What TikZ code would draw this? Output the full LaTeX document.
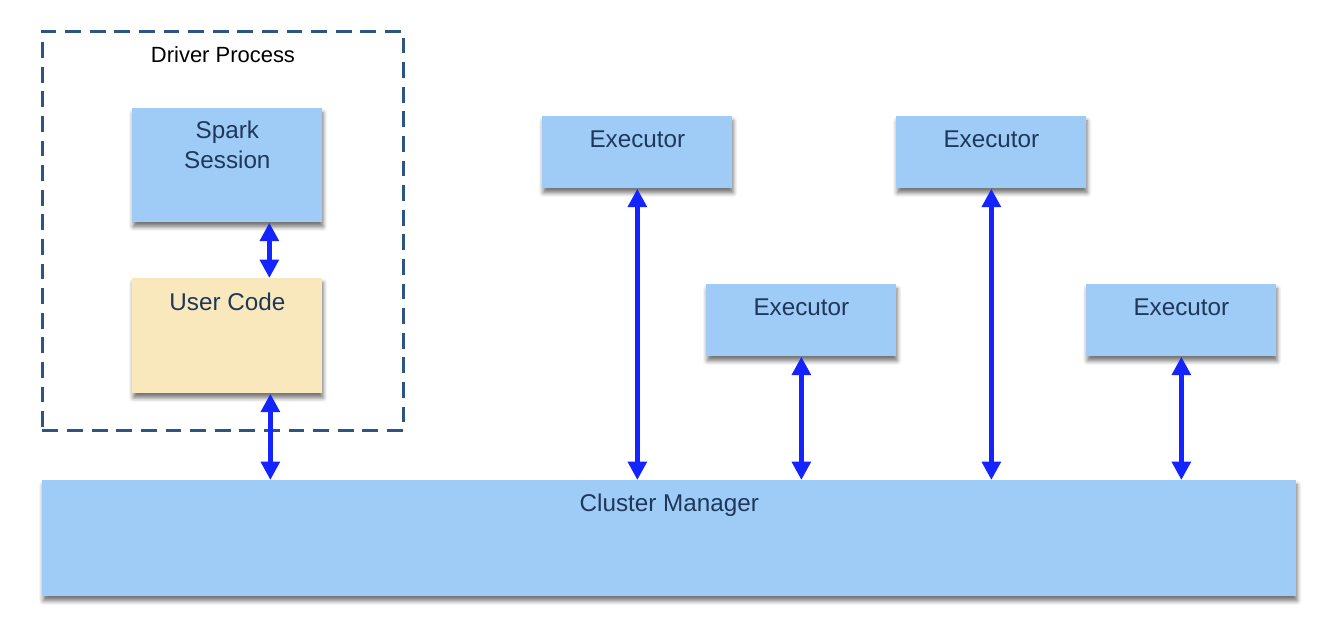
\documentclass[tikz,border=0pt]{standalone}
\usepackage{fontspec}
\setmainfont{Liberation Sans}
\usepackage{xcolor}
\usetikzlibrary{calc, positioning, arrows.meta, shadows.blur}
\definecolor{boxblue}{RGB}{159,204,247}
\definecolor{codeyellow}{RGB}{250,232,189}
\definecolor{labelnavy}{RGB}{30,55,90}
\definecolor{dashnavy}{RGB}{46,84,133}
\definecolor{linkblue}{RGB}{20,36,255}

\begin{document}
\begin{tikzpicture}[
	box/.style={fill=boxblue, text=labelnavy, font=\fontsize{13.8}{17}\selectfont, inner sep=0pt, anchor=north west, minimum width=3.8cm, text height=0.62cm, blur shadow={shadow xshift=0.5pt, shadow yshift=-2.6pt, shadow blur radius=2.4pt, shadow opacity=55}},
	link/.style={draw=linkblue, line width=3pt, {Triangle[length=10.5pt,width=10.5pt]}-{Triangle[length=10.5pt,width=10.5pt]}}
]
	\useasboundingbox (0,0) rectangle (26.56,-12.76);
	
	\node [draw=dashnavy, line width=1.7pt, dash pattern=on 9pt off 5pt, inner sep=0pt, anchor=north west, minimum width=7.22cm, text height=0.62cm, text depth=7.36cm, font=\fontsize{12.5}{15}\selectfont] (driver) at (0.82,-0.6) {Driver Process};
	
	\node [box, align=center, text height=1.2cm, text depth=1.08cm] (spark) at (2.64,-2.16) {Spark\\Session};
	\node [box, fill=codeyellow, text height=0.64cm, text depth=1.66cm] (user) at (2.64,-5.56) {User Code};
	
	\node [box, text depth=0.82cm] (exec1) at (10.84,-2.32) {Executor};
	\node [box, text depth=0.82cm] (exec2) at (14.12,-5.68) {Executor};
	\node [box, text depth=0.82cm] (exec3) at (17.92,-2.32) {Executor};
	\node [box, text depth=0.82cm] (exec4) at (21.72,-5.68) {Executor};
	
	\node [box, minimum width=25.08cm, text depth=1.70cm] (cluster) at (0.84,-9.6) {Cluster Manager};
	
	\coordinate (usertap) at ([xshift=0.86cm]user.south);
	\draw [link] ([xshift=0.84cm]spark.south) -- ([xshift=0.84cm]user.north);
	\draw [link] (usertap) -- (usertap |- cluster.north);
	
	\draw [link] (exec1.south) -- (exec1.south |- cluster.north);
	\draw [link] (exec2.south) -- (exec2.south |- cluster.north);
	\draw [link] (exec3.south) -- (exec3.south |- cluster.north);
	\draw [link] (exec4.south) -- (exec4.south |- cluster.north);
\end{tikzpicture}
\end{document}
